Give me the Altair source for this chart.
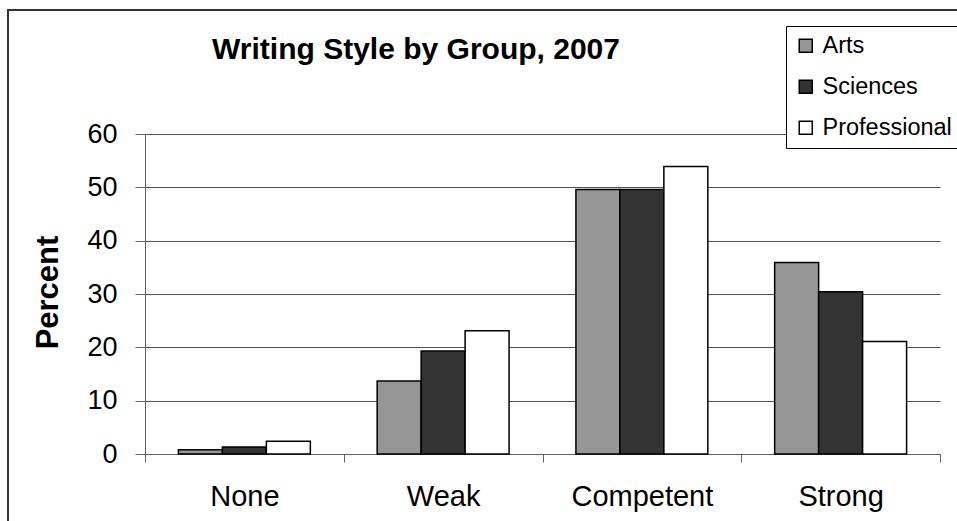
import altair as alt
import pandas as pd

# Writing-style ratings by academic group (percent of papers)
levels = ["None", "Weak", "Competent", "Strong"]
groups = ["Arts", "Sciences", "Professional"]
arts = [0.8, 13.7, 49.6, 35.9]
sciences = [1.3, 19.3, 49.6, 30.4]
professional = [2.4, 23.1, 53.9, 21.1]
y_ticks = [0, 10, 20, 30, 40, 50, 60]
chart_title = "Writing Style by Group, 2007"
y_title = "Percent"
group_colors = ["#969696", "#333333", "#ffffff"]

rows = []
for series_name, values in zip(groups, [arts, sciences, professional]):
    for level, v in zip(levels, values):
        rows.append({"level": level, "group": series_name, "percent": v})
df = pd.DataFrame(rows)

FONT = "Liberation Sans"
one = pd.DataFrame({"k": [0]})

# outer frame of the chart area
frame = alt.Chart(one).mark_rect(
    filled=False, stroke="#333333", strokeWidth=2
).encode(
    x=alt.value(-137), x2=alt.value(850), y=alt.value(-124), y2=alt.value(420)
)

bars = alt.Chart(df).mark_bar(stroke="black", strokeWidth=1.5).encode(
    x=alt.X(
        "level:N",
        sort=levels,
        scale=alt.Scale(paddingInner=0, paddingOuter=0),
        axis=alt.Axis(
            title=None,
            tickBand="extent",
            grid=False,
            labelAngle=0,
            labelFontSize=29,
            labelColor="black",
            labelPadding=20,
            tickSize=8,
            tickColor="#606060",
            domainColor="#606060",
        ),
    ),
    xOffset=alt.XOffset(
        "group:N", sort=groups, scale=alt.Scale(paddingInner=0, paddingOuter=0.76)
    ),
    y=alt.Y(
        "percent:Q",
        scale=alt.Scale(domain=[0, 60], nice=False),
        axis=alt.Axis(
            values=y_ticks,
            title=y_title,
            titleFontSize=31,
            titleFontWeight="bold",
            titleColor="black",
            titleX=-88,
            titleY=158,
            titleBaseline="alphabetic",
            labelFontSize=27,
            labelColor="black",
            labelPadding=18,
            tickSize=10,
            tickColor="#606060",
            domainColor="#606060",
            gridColor="#505050",
            gridWidth=1,
        ),
    ),
    fill=alt.Fill(
        "group:N",
        sort=groups,
        scale=alt.Scale(domain=groups, range=group_colors),
        legend=alt.Legend(
            title=None,
            orient="none",
            legendX=641,
            legendY=-108,
            direction="vertical",
            fillColor="white",
            strokeColor="black",
            padding=8,
            symbolType="square",
            symbolSize=169,
            symbolStrokeColor="black",
            symbolStrokeWidth=1.5,
            labelFontSize=23.5,
            labelColor="black",
            labelOffset=5,
            labelLimit=300,
            rowPadding=16,
        ),
    ),
)

title_mark = alt.Chart(one).mark_text(
    text=chart_title,
    fontSize=30,
    fontWeight="bold",
    font=FONT,
    align="center",
    baseline="alphabetic",
    color="black",
).encode(x=alt.value(271), y=alt.value(-75))

chart = (
    alt.layer(frame, bars, title_mark)
    .properties(
        width=795,
        height=320,
        autosize=alt.AutoSizeParams(type="none"),
        padding={"left": 145, "top": 134, "right": 17, "bottom": 67},
        background="white",
    )
    .configure(font=FONT)
    .configure_view(stroke=None)
)

chart.save("out.html", embed_options={"renderer": "svg", "actions": False})
